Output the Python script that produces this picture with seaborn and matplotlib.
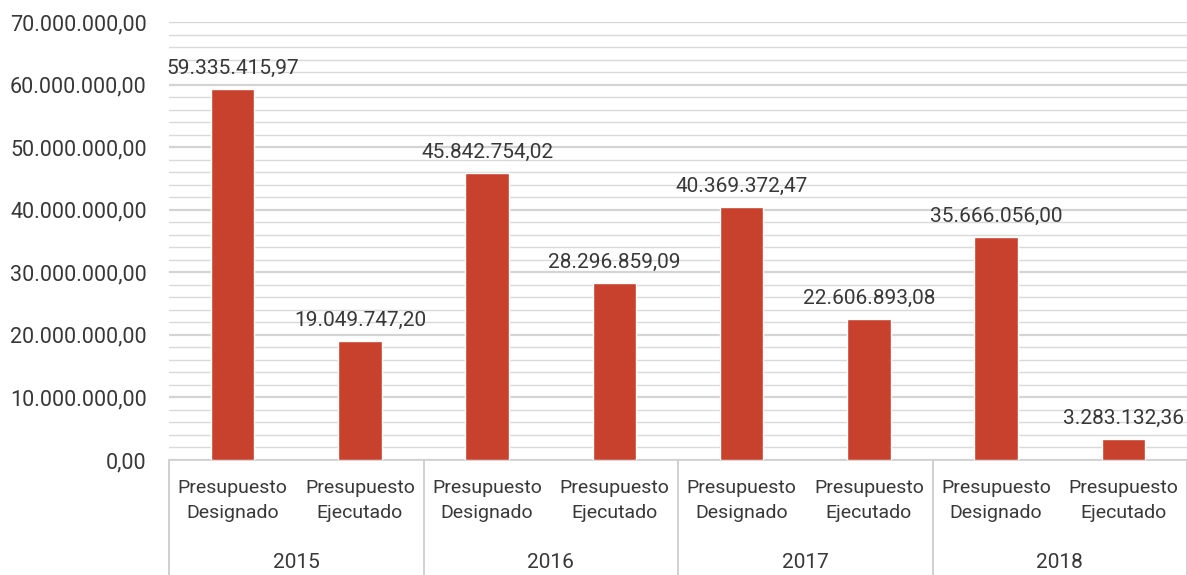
import matplotlib
matplotlib.use("Agg")
import matplotlib.pyplot as plt
import matplotlib.transforms as mtransforms
from matplotlib.ticker import MultipleLocator, FuncFormatter
import pandas as pd
import seaborn as sns

# datos
anios = ["2015", "2016", "2017", "2018"]
tipos = ["Presupuesto\nDesignado", "Presupuesto\nEjecutado"]
designado = [59335415.97, 45842754.02, 40369372.47, 35666056.00]
ejecutado = [19049747.20, 28296859.09, 22606893.08, 3283132.36]

def fmt_es(v):
    s = f"{v:,.2f}"
    return s.replace(",", "X").replace(".", ",").replace("X", ".")

filas = []
for i, a in enumerate(anios):
    filas.append({"clave": f"{a}-D", "anio": a, "tipo": tipos[0], "valor": designado[i]})
    filas.append({"clave": f"{a}-E", "anio": a, "tipo": tipos[1], "valor": ejecutado[i]})
df = pd.DataFrame(filas)

sns.set_theme(style="white")
plt.rcParams["font.family"] = ["Roboto", "DejaVu Sans"]
color_texto = "#383838"

fig = plt.figure(figsize=(11.87, 5.75), dpi=100)
ax = fig.add_axes([169 / 1187, 115 / 575, 1018 / 1187, 438 / 575])

sns.barplot(data=df, x="clave", y="valor", color="#C8412C", width=0.34,
            saturation=1, ax=ax, zorder=3)

ax.set_ylim(0, 70000000)
ax.set_xlim(-0.5, len(df) - 0.5)
ax.yaxis.set_major_locator(MultipleLocator(10000000))
ax.yaxis.set_minor_locator(MultipleLocator(2000000))
ax.yaxis.set_major_formatter(FuncFormatter(lambda v, p: fmt_es(v)))
ax.grid(axis="y", which="major", color="#d4d4d4", linewidth=1.6, zorder=0)
ax.grid(axis="y", which="minor", color="#d9d9d9", linewidth=1.0, zorder=0)
ax.tick_params(axis="y", which="both", length=0, labelsize=15.5, colors=color_texto, pad=16)
ax.tick_params(axis="x", length=0)
ax.set_xticklabels([])
ax.set_xlabel("")
ax.set_ylabel("")
for s in ["top", "right", "left"]:
    ax.spines[s].set_visible(False)
ax.spines["bottom"].set_color("#d0d0d0")
ax.spines["bottom"].set_linewidth(1.2)

# etiquetas de valor
for i, v in enumerate(df["valor"]):
    ax.annotate(fmt_es(v), (i, v), xytext=(0, 8), textcoords="offset points",
                ha="center", va="bottom", fontsize=15, color=color_texto)

# ejes jerarquicos
trans = mtransforms.blended_transform_factory(ax.transData, ax.transAxes)
for i, t in enumerate(df["tipo"]):
    ax.text(i, -0.092, t, transform=trans, ha="center", va="center",
            fontsize=14, color=color_texto, linespacing=1.5)
for j, a in enumerate(anios):
    ax.text(2 * j + 0.5, -0.235, a, transform=trans, ha="center", va="center",
            fontsize=15, color=color_texto)
for k in range(len(anios) + 1):
    ax.plot([2 * k - 0.5, 2 * k - 0.5], [0, -0.27], transform=trans,
            color="#c8c8c8", linewidth=1.2, clip_on=False)

fig.savefig("out.png", dpi=100)
